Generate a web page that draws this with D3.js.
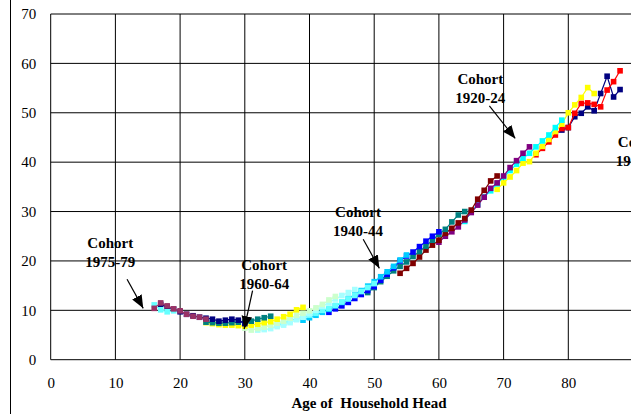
<!DOCTYPE html>
<html lang="en">
<head>
<meta charset="UTF-8">
<title>Cohort profiles by age of household head</title>
<script src="https://d3js.org/d3.v7.min.js"></script>
<style>
    body { margin: 0; background: #fff; }
    svg { display: block; font-family: "Liberation Serif", "Times New Roman", serif; }
</style>
</head>
<body>
<div id="chart"></div>
<script>
    // axis ticks (gridlines run past the window; labels only where the chart shows them)
    var xGrid = [0, 10, 20, 30, 40, 50, 60, 70, 80, 90, 100];
    var xTicks = [0, 10, 20, 30, 40, 50, 60, 70, 80];
    var yTicks = [0, 10, 20, 30, 40, 50, 60, 70];

    // one array per cohort line, values at consecutive ages from its first age
    var oldNavy    = [46.5, 47.0, 49.2, 49.9, 51.2, 50.4, 53.9, 57.4, 53.2, 54.7];
    var oldRed     = [41.5, 42.8, 44.1, 45.5, 46.8, 47.0, 49.9, 51.9, 52.0, 51.7, 51.2, 54.6, 56.3, 58.5];
    var oldYellow  = [34.5, 35.8, 37.0, 38.3, 39.8, 40.1, 41.8, 43.2, 44.6, 46.2, 47.7, 50.0, 51.6, 53.1, 55.1, 53.9];
    var oldCyan    = [28.0, 30.0, 31.5, 33.0, 34.2, 35.6, 37.0, 38.3, 39.6, 40.8, 41.8, 43.1, 44.3, 45.5, 47.0, 48.5];
    var purple     = [23.8, 25.0, 25.9, 26.9, 28.3, 29.8, 31.3, 32.9, 34.7, 35.8, 37.2, 38.9, 40.3, 41.8, 43.1];
    var darkRed    = [17.5, 18.5, 19.5, 20.8, 22.2, 23.2, 24.2, 25.6, 26.6, 27.7, 28.6, 30.3, 32.5, 34.3, 36.2, 37.2];
    var oldTeal    = [13.6, 14.6, 15.8, 16.9, 18.0, 18.9, 19.8, 20.9, 21.9, 23.0, 24.2, 25.4, 26.4, 27.9, 29.3, 30.0];
    var blue       = [9.6, 10.3, 10.9, 11.6, 12.4, 13.2, 14.0, 14.8, 16.1, 17.3, 18.6, 20.0, 21.0, 21.8, 22.9, 24.0, 25.0, 25.9];
    var skyBlue    = [8.0, 8.5, 9.0, 9.6, 10.2, 10.9, 11.6, 12.4, 13.2, 14.0, 14.9, 15.8, 16.8, 17.8, 18.9, 20.2, 21.2];
    var midCyan    = [7.0, 7.4, 7.9, 8.3, 8.6, 9.0, 9.4, 10.0, 10.4, 11.0, 11.7, 12.3, 13.0, 13.8, 14.6, 15.4];
    var paleCyan   = [6.0, 6.1, 6.3, 6.7, 7.0, 7.5, 8.1, 8.6, 9.3, 10.0, 10.8, 11.6, 12.3, 13.0, 13.6, 14.2];
    var lightGreen = [6.4, 6.0, 6.3, 6.6, 7.0, 7.4, 7.8, 8.4, 9.0, 9.4, 9.9, 10.5, 11.2, 12.1, 12.8];
    var yellow     = [7.5, 7.3, 7.1, 7.0, 7.0, 6.9, 6.8, 7.0, 7.2, 7.5, 7.7, 8.2, 8.7, 9.2, 10.1, 10.6];
    var teal       = [7.6, 7.5, 7.4, 7.4, 7.5, 7.6, 7.6, 7.8, 8.2, 8.5, 8.8];
    var navy       = [11.2, 10.7, 10.2, 9.7, 9.2, 8.9, 8.6, 8.4, 8.2, 7.8, 8.0, 8.2, 8.0, 7.3];
    var youngCyan  = [11.1, 10.1, 9.7, 9.9];
    var plum       = [10.4, 11.5, 10.9, 10.3, 9.9, 9.2, 8.8, 8.6, 8.2];

    // drawing order, first age of each line, and its colour
    var lines     = [oldNavy, oldRed, oldYellow, oldCyan, purple, darkRed, oldTeal, blue, skyBlue,
                     midCyan, paleCyan, lightGreen, yellow, teal, navy, youngCyan, plum];
    var firstAges = [79, 75, 69, 64, 60, 54, 49, 43, 39, 35, 32, 30, 24, 24, 17, 16, 16];
    var colours   = ["#000080", "#FF0000", "#FFFF00", "#00FFFF", "#800080", "#800000", "#008080", "#0000FF", "#00CCFF",
                     "#66FFFF", "#A6FFFF", "#CCFFCC", "#FFFF00", "#008080", "#000080", "#66FFFF", "#993366"];

    // cohort labels: name, label centre (age, value), arrow start and tip (age, value)
    var labelNames  = ["1975-79", "1960-64", "1940-44", "1920-24", "1915-19"];
    var labelAt     = [[9.2, 23.6], [33.0, 19.2], [47.5, 30.0], [66.4, 56.8], [91.2, 44.1]];
    var arrowFrom   = [[11.8, 16.3], [31.2, 14.0], [48.3, 24.4], [67.8, 51.4], null];
    var arrowTo     = [[14.3, 10.4], [29.9, 6.2], [50.8, 18.5], [71.8, 44.8], null];

    var W = 631, H = 414;
    var x = d3.scaleLinear().domain([0, 100]).range([50.7, 697.7]);
    var y = d3.scaleLinear().domain([0, 70]).range([359.7, 14]);

    var svg = d3.select("#chart").append("svg")
        .attr("width", W)
        .attr("height", H);

    // chart area border on the left
    svg.append("line")
        .attr("x1", 10.5).attr("x2", 10.5)
        .attr("y1", 0).attr("y2", H)
        .attr("stroke", "#000").attr("stroke-width", 1);

    // grid
    svg.append("g").selectAll("line.h")
        .data(yTicks).enter().append("line")
        .attr("x1", x(0)).attr("x2", x(100))
        .attr("y1", function(d) { return y(d); })
        .attr("y2", function(d) { return y(d); })
        .attr("stroke", "#000").attr("stroke-width", 1);

    svg.append("g").selectAll("line.v")
        .data(xGrid).enter().append("line")
        .attr("x1", function(d) { return x(d); })
        .attr("x2", function(d) { return x(d); })
        .attr("y1", y(0)).attr("y2", y(70))
        .attr("stroke", "#000").attr("stroke-width", 1);

    // axes (labels only, Excel style)
    var yAxis = svg.append("g")
        .attr("transform", "translate(" + x(0) + ",0)")
        .call(d3.axisLeft(y).tickValues(yTicks).tickSize(0).tickPadding(14.5));
    var xAxis = svg.append("g")
        .attr("transform", "translate(0," + y(0) + ")")
        .call(d3.axisBottom(x).tickValues(xTicks).tickSize(0).tickPadding(18));
    [xAxis, yAxis].forEach(function(a) {
        a.select(".domain").remove();
        a.selectAll("text")
            .attr("font-family", "Liberation Serif, Times New Roman, serif")
            .attr("font-size", 15)
            .attr("fill", "#000");
    });

    svg.append("text")
        .attr("x", 369)
        .attr("y", 408)
        .attr("text-anchor", "middle")
        .attr("font-size", 15)
        .attr("font-weight", "bold")
        .style("white-space", "pre")
        .text("Age of  Household Head");

    // cohort lines with square markers
    var line = d3.line()
        .x(function(d) { return x(d[0]); })
        .y(function(d) { return y(d[1]); });

    lines.forEach(function(vals, i) {
        var pts = vals.map(function(v, j) { return [firstAges[i] + j, v]; });
        var g = svg.append("g");
        g.append("path")
            .datum(pts)
            .attr("d", line)
            .attr("fill", "none")
            .attr("stroke", colours[i])
            .attr("stroke-width", 1.2);
        g.selectAll("rect")
            .data(pts).enter().append("rect")
            .attr("x", function(d) { return x(d[0]) - 2.8; })
            .attr("y", function(d) { return y(d[1]) - 2.8; })
            .attr("width", 5.6)
            .attr("height", 5.6)
            .attr("fill", colours[i]);
    });

    // annotations
    svg.append("defs").append("marker")
        .attr("id", "head")
        .attr("viewBox", "0 0 12 10")
        .attr("refX", 12).attr("refY", 5)
        .attr("markerWidth", 13).attr("markerHeight", 11)
        .attr("markerUnits", "userSpaceOnUse")
        .attr("orient", "auto")
        .append("path")
        .attr("d", "M0,0 L12,5 L0,10 Z")
        .attr("fill", "#000");

    labelNames.forEach(function(name, i) {
        var t = svg.append("text")
            .attr("text-anchor", "middle")
            .attr("font-size", 15)
            .attr("font-weight", "bold")
            .attr("fill", "#000");
        t.append("tspan")
            .attr("x", x(labelAt[i][0]))
            .attr("y", y(labelAt[i][1]) + 5)
            .text("Cohort");
        t.append("tspan")
            .attr("x", x(labelAt[i][0]))
            .attr("dy", 19)
            .text(name);
        if (arrowFrom[i]) {
            svg.append("line")
                .attr("x1", x(arrowFrom[i][0])).attr("y1", y(arrowFrom[i][1]))
                .attr("x2", x(arrowTo[i][0])).attr("y2", y(arrowTo[i][1]))
                .attr("stroke", "#000")
                .attr("stroke-width", 1.2)
                .attr("marker-end", "url(#head)");
        }
    });
</script>
</body>
</html>
